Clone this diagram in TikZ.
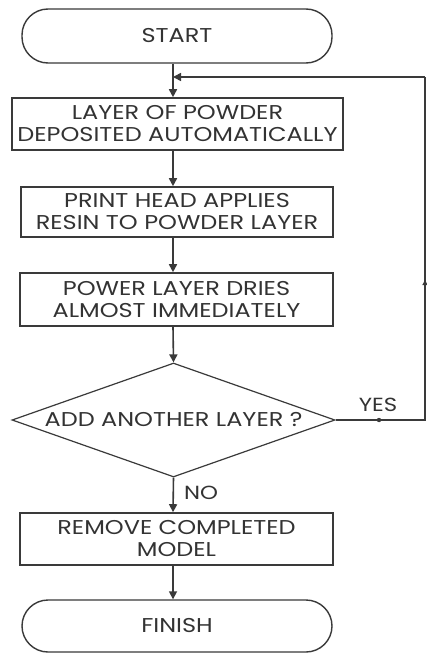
\documentclass[tikz,border=0pt]{standalone}
\usepackage{fontspec}
\setmainfont{Poppins}[FakeStretch=1.2]
\usetikzlibrary{arrows.meta,shapes.geometric,calc}
\definecolor{ln}{HTML}{3A3A3A}
\definecolor{tx}{HTML}{333333}
\tikzset{
  boxnode/.style={draw=ln, line width=1.6pt, rectangle, inner sep=0pt, align=center, text=tx,
    font=\fontsize{20}{22}\selectfont},
  termnode/.style={draw=ln, line width=1.4pt, rectangle, rounded corners=26pt, inner sep=0pt, align=center, text=tx,
    minimum width=310pt, font=\fontsize{20}{22}\selectfont},
  decnode/.style={draw=ln, line width=1.2pt, diamond, aspect=2.83, inner sep=0pt, text=tx,
    minimum width=323pt, minimum height=114pt, font=\fontsize{20}{22}\selectfont},
  arr/.style={draw=ln, line width=1.6pt, -{Triangle[length=8pt,width=8pt]}},
  con/.style={draw=ln, line width=1.4pt},
  lbl/.style={text=tx, inner sep=0pt, font=\fontsize{19}{20}\selectfont}
}
\begin{document}
\begin{tikzpicture}[x=1pt,y=-1pt]
\useasboundingbox[fill=white] (0,0) rectangle (427,653);
\coordinate (xl) at (173,0);
\node[termnode, minimum height=54pt] (start) at (177,36) {START};
\node[boxnode, minimum width=331pt, minimum height=52pt] (b1) at (177.5,124) {LAYER OF POWDER\\DEPOSITED AUTOMATICALLY};
\node[boxnode, minimum width=312pt, minimum height=50pt] (b2) at (177,212) {PRINT HEAD APPLIES\\RESIN TO POWDER LAYER};
\node[boxnode, minimum width=313pt, minimum height=53pt] (b3) at (176.5,299.5) {POWER LAYER DRIES\\ALMOST IMMEDIATELY};
\node[decnode] (dec) at (173.5,420) {ADD ANOTHER LAYER ?};
\node[boxnode, minimum width=313pt, minimum height=52pt] (b5) at (176.5,539) {REMOVE COMPLETED\\MODEL};
\node[termnode, minimum height=52pt] (fin) at (177,626) {FINISH};
\coordinate (loopj) at (173,77);
\coordinate (rtop) at (425,77);
\coordinate (rmid) at (425,280);
\coordinate (rmidb) at (425,284);
\coordinate (ydot) at (379,420);
\node[lbl] (yes) at (378,405) {YES};
\node[lbl, anchor=west] (no) at (184,493) {NO};
\draw[con] (start.south -| xl) -- (loopj);
\draw[arr] (loopj) -- (b1.north -| xl);
\draw[arr] (b1.south -| xl) -- (b2.north -| xl);
\draw[arr] (b2.south -| xl) -- (b3.north -| xl);
\draw[arr] (b3.south -| xl) -- (dec.north);
\draw[arr] (dec.south) -- (b5.north -| xl);
\draw[arr] (b5.south -| xl) -- (fin.north -| xl);
\draw[con] (dec.east) -- (dec.east -| rtop) -- (rtop);
\draw[arr] (rtop) -- (loopj);
\fill[ln] (ydot) circle (2.2pt);
\draw[draw=ln, line width=1.2pt, -{Triangle[length=5pt,width=5pt]}] (rmidb) -- (rmid);
\end{tikzpicture}
\end{document}
